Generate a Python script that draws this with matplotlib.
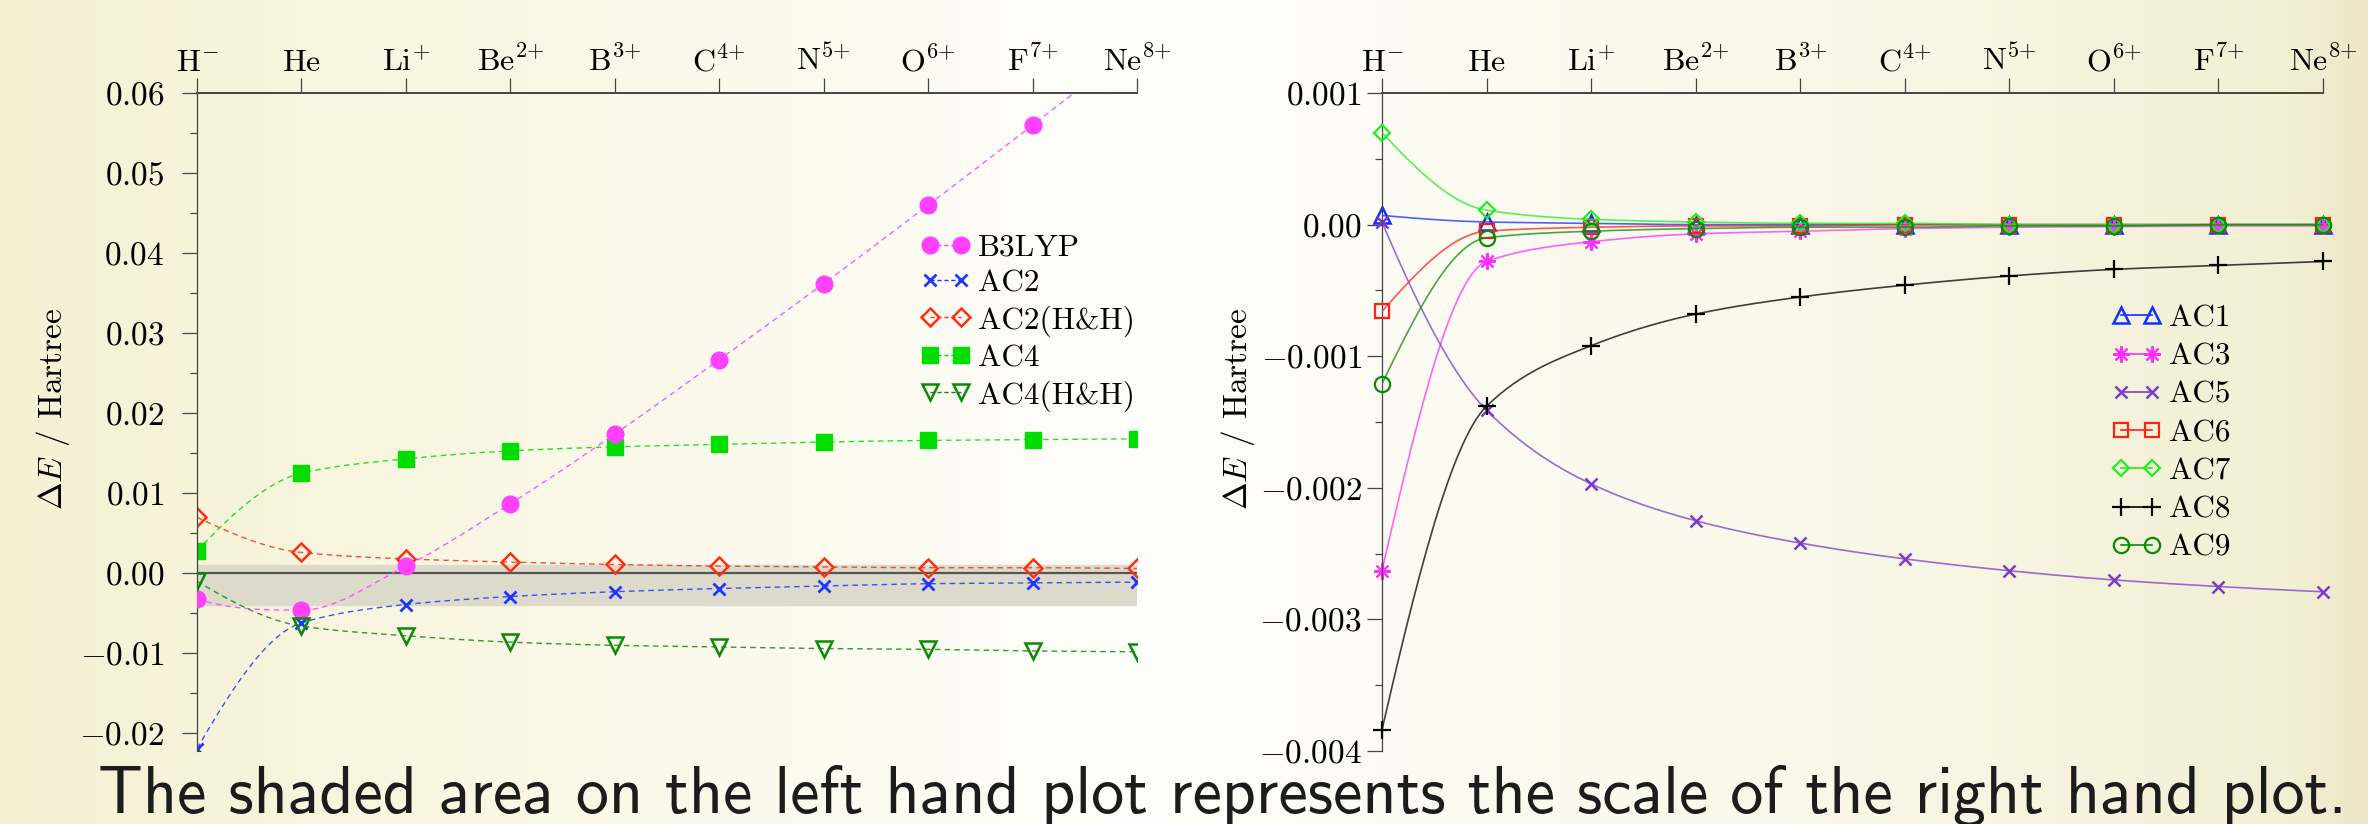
import numpy as np
import matplotlib.pyplot as plt
from matplotlib.lines import Line2D
from matplotlib.ticker import FixedLocator, FixedFormatter, MultipleLocator
from matplotlib.colors import LinearSegmentedColormap

plt.rcParams['mathtext.fontset'] = 'cm'
plt.rcParams['font.family'] = 'serif'
plt.rcParams['font.serif'] = ['cmr10']
plt.rcParams['axes.formatter.use_mathtext'] = True
plt.rcParams['axes.unicode_minus'] = False  # cmr10 has no unicode minus

ions = [r'$\mathrm{H}^{-}$', r'$\mathrm{He}$', r'$\mathrm{Li}^{{+}}$', r'$\mathrm{Be}^{2{+}}$',
        r'$\mathrm{B}^{3{+}}$', r'$\mathrm{C}^{4{+}}$', r'$\mathrm{N}^{5{+}}$', r'$\mathrm{O}^{6{+}}$',
        r'$\mathrm{F}^{7{+}}$', r'$\mathrm{Ne}^{8{+}}$']

# left panel, error in Hartree
b3lyp  = [-0.0032, -0.0046, 0.0009, 0.0087, 0.0174, 0.0267, 0.0362, 0.0460, 0.0560, 0.0662]
ac2    = [-0.0219, -0.0062, -0.0039, -0.0029, -0.0023, -0.0019, -0.0016, -0.0013, -0.0012, -0.0011]
ac2_hh = [0.0070, 0.0026, 0.0018, 0.0014, 0.0011, 0.0009, 0.0008, 0.0007, 0.0007, 0.0006]
ac4    = [0.0028, 0.0125, 0.0143, 0.0153, 0.0158, 0.0161, 0.0164, 0.0166, 0.0167, 0.0168]
ac4_hh = [-0.0010, -0.0066, -0.0078, -0.0086, -0.0090, -0.0092, -0.0094, -0.0095, -0.0097, -0.0098]

# right panel, error in Hartree
ac1 = [0.00007, 0.00002, 0.00001, 0.0, 0.0, 0.0, 0.0, 0.0, 0.0, 0.0]
ac3 = [-0.00263, -0.00028, -0.00013, -0.00007, -0.00005, -0.00003, -0.00002, -0.000015, -0.00001, -0.00001]
ac5 = [0.00002, -0.00141, -0.00197, -0.00225, -0.00242, -0.00254, -0.00263, -0.00270, -0.00275, -0.00279]
ac6 = [-0.00066, -0.00005, -0.00002, -0.00001, -0.00001, 0.0, 0.0, 0.0, 0.0, 0.0]
ac7 = [0.00070, 0.00011, 0.00004, 0.00002, 0.00001, 0.00001, 0.0, 0.0, 0.0, 0.0]
ac8 = [-0.00384, -0.00138, -0.00092, -0.00068, -0.00055, -0.00046, -0.00039, -0.00034, -0.00031, -0.00028]
ac9 = [-0.00121, -0.00010, -0.00005, -0.00003, -0.00002, -0.00002, -0.00001, -0.00001, 0.0, 0.0]

caption = 'The shaded area on the left hand plot represents the scale of the right hand plot.'


def smooth(y, n=30):
    # monotone cubic (Fritsch-Carlson) curve through equally spaced points
    y = np.asarray(y, float)
    d = np.diff(y)
    m = np.zeros_like(y)
    for i in range(1, len(y) - 1):
        if d[i - 1] * d[i] > 0:
            m[i] = 2 / (1 / d[i - 1] + 1 / d[i])
    for k, (a, b) in ((0, (d[0], d[1])), (-1, (d[-1], d[-2]))):
        e = (3 * a - b) / 2
        if e * a <= 0:
            e = 0.0
        elif a * b < 0 and abs(e) > 3 * abs(a):
            e = 3 * a
        m[k] = e
    xs = np.linspace(0, len(y) - 1, (len(y) - 1) * n + 1)
    i = np.minimum(xs.astype(int), len(y) - 2)
    t = xs - i
    ys = ((2 * t ** 3 - 3 * t ** 2 + 1) * y[i] + (t ** 3 - 2 * t ** 2 + t) * m[i]
          + (-2 * t ** 3 + 3 * t ** 2) * y[i + 1] + (t ** 3 - t ** 2) * m[i + 1])
    return xs, ys


fig = plt.figure(figsize=(23.68, 8.24), dpi=100)

# pale yellow slide background
bg = fig.add_axes([0, 0, 1, 1], zorder=-10)
cmap = LinearSegmentedColormap.from_list('slide', [
    (0.0, '#f6f1d3'), (0.48, '#fefefa'), (0.75, '#faf8ea'), (0.97, '#f3efd4'), (1.0, '#eee8c8')])
bg.imshow(np.linspace(0, 1, 512)[None, :], cmap=cmap, aspect='auto', extent=[0, 1, 0, 1])
bg.axis('off')

axL = fig.add_axes([0.0832, 0.0886, 0.3970, 0.7985])
axR = fig.add_axes([0.5836, 0.0886, 0.3974, 0.7985])

x = np.arange(len(ions))


def style_axes(ax, ylim, major, minor, labels):
    ax.patch.set_alpha(0)
    ax.set_xlim(0, 9)
    ax.set_ylim(*ylim)
    for side in ('right', 'bottom'):
        ax.spines[side].set_visible(False)
    ax.spines['top'].set_color('#444444')
    ax.spines['top'].set_linewidth(1.4)
    ax.spines['left'].set_color('#444444')
    ax.spines['left'].set_linewidth(0.9)
    ax.xaxis.tick_top()
    ax.set_xticks(x)
    ax.set_xticklabels(ions)
    ax.yaxis.set_major_locator(FixedLocator(major))
    ax.yaxis.set_major_formatter(FixedFormatter(labels))
    ax.yaxis.set_minor_locator(MultipleLocator(minor))
    ax.tick_params(axis='both', which='major', direction='out', length=10.5, width=0.9,
                   color='#444444')
    ax.tick_params(axis='x', labelsize=23, pad=1)
    ax.tick_params(axis='y', labelsize=24)
    ax.tick_params(axis='y', which='minor', direction='out', length=5, width=0.9, color='#444444')
    ax.set_ylabel(r'$\Delta E$ / Hartree', fontsize=24)
    ax.yaxis.set_label_coords(-0.133, 0.52)


style_axes(axL, (-0.0222, 0.06), [-0.02, -0.01, 0.0, 0.01, 0.02, 0.03, 0.04, 0.05, 0.06], 0.005,
           [r'$-0.02$', r'$-0.01$', r'$0.00$', r'$0.01$', r'$0.02$', r'$0.03$', r'$0.04$', r'$0.05$', r'$0.06$'])
style_axes(axR, (-0.004, 0.001), [-0.004, -0.003, -0.002, -0.001, 0.0, 0.001], 0.0005,
           [r'$-0.004$', r'$-0.003$', r'$-0.002$', r'$-0.001$', r'$0.00$', r'$0.001$'])
axL.tick_params(axis='y', which='major', pad=13)
axR.tick_params(axis='y', which='major', pad=4)

# the range of the right hand panel
axL.axhspan(-0.004, 0.001, color='#dcdacb', zorder=0.5)
axL.axhline(0, color='#555555', lw=1.6, zorder=1)

left_series = [
    ('AC2', ac2, dict(color='#2035ff', marker='x', ms=9, mew=2, mfc='none'), 2),
    ('AC2(H&H)', ac2_hh, dict(color='#ff3010', marker='D', ms=9, mew=1.8, mfc='none'), 2),
    ('AC4', ac4, dict(color='#00dd00', marker='s', ms=11, mew=1, mfc='#00dd00'), 2),
    ('AC4(H&H)', ac4_hh, dict(color='#0a8a0a', marker='v', ms=12, mew=1.8, mfc='none'), 4),
    ('B3LYP', b3lyp, dict(color='#ff40ff', marker='o', ms=12, mew=1, mfc='#ff40ff'), 3),
]
handles = {}
for name, vals, mk, z in left_series:
    xs, ys = smooth(vals)
    axL.plot(xs, ys, color=mk['color'], lw=1.0, ls=(0, (4, 3)), alpha=0.85, zorder=z)
    axL.plot(x, vals, ls='none', zorder=z + 0.1, **mk)
    handles[name] = Line2D([], [], ls=(0, (3, 2)), lw=1.0, **mk)
order = ['B3LYP', 'AC2', 'AC2(H&H)', 'AC4', 'AC4(H&H)']
fig.legend([handles[k] for k in order], order,
           loc='upper left', bbox_to_anchor=(0.382, 0.7355), frameon=False, fontsize=22.5,
           numpoints=2, handlelength=1.6, handletextpad=0.25, labelspacing=0.25, borderpad=0)

right_series = [
    ('AC1', ac1, dict(color='#1030ff', marker='^', ms=11, mew=1.8, mfc='none')),
    ('AC3', ac3, dict(color='#ff30ff', marker=(8, 2, 0), ms=12, mew=1.5, mfc='none')),
    ('AC5', ac5, dict(color='#7a3cc8', marker='x', ms=9, mew=1.8, mfc='none')),
    ('AC6', ac6, dict(color='#ff2010', marker='s', ms=10, mew=1.6, mfc='none')),
    ('AC7', ac7, dict(color='#20ee20', marker='D', ms=8.5, mew=1.6, mfc='none')),
    ('AC8', ac8, dict(color='#000000', marker='+', ms=13, mew=1.6, mfc='none')),
    ('AC9', ac9, dict(color='#0a8a0a', marker='o', ms=11, mew=1.6, mfc='none')),
]
rh = []
for k, (name, vals, mk) in enumerate(right_series):
    xs, ys = smooth(vals)
    axR.plot(xs, ys, color=mk['color'], lw=1.2, alpha=0.75, zorder=2 + k * 0.2)
    axR.plot(x, vals, ls='none', zorder=2.1 + k * 0.2, clip_on=False, **mk)
    rh.append(Line2D([], [], ls='-', lw=1.2, **mk))
fig.legend(rh, [s[0] for s in right_series],
           loc='upper left', bbox_to_anchor=(0.885, 0.6496), frameon=False, fontsize=22.5,
           numpoints=2, handlelength=1.6, handletextpad=0.25, labelspacing=0.33, borderpad=0)

fig.text(98 / 2368, 1 - 813 / 824, caption, family='cmss10', fontsize=47.5,
         va='baseline', ha='left', color='#1c1c1c')

fig.savefig('out.png', dpi=100)
